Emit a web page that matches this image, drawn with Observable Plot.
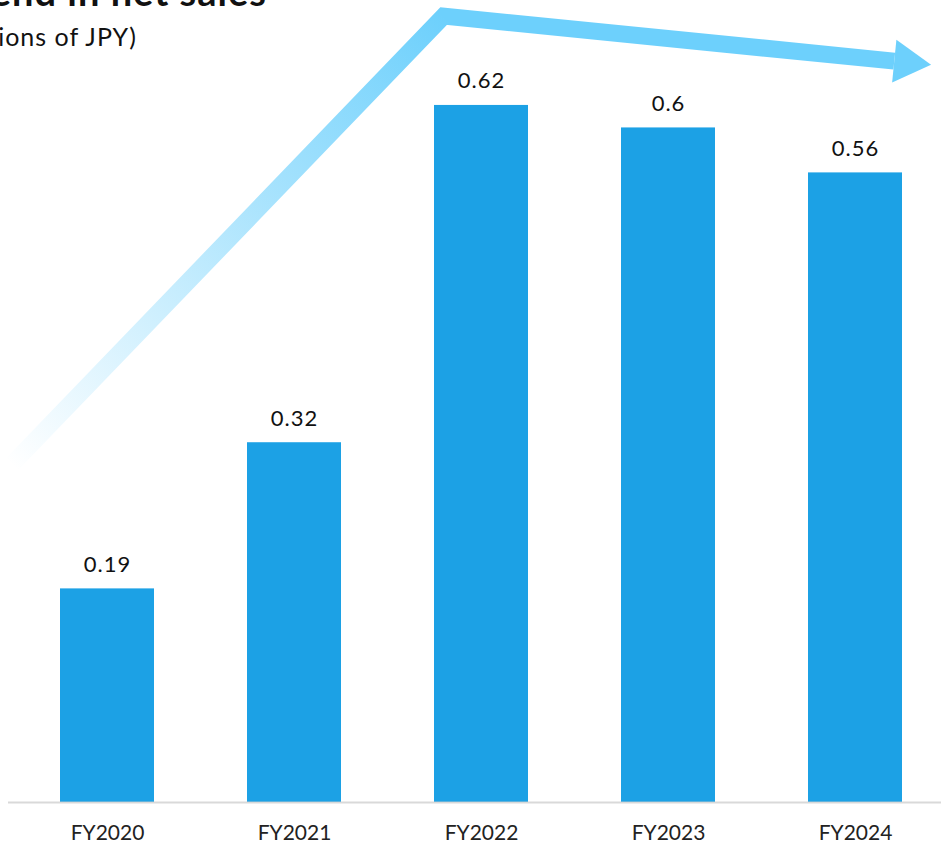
<!DOCTYPE html>
<html>
<head>
<meta charset="utf-8">
<script src="https://cdn.jsdelivr.net/npm/d3@7"></script>
<script src="https://cdn.jsdelivr.net/npm/@observablehq/plot@0.6"></script>
<style>
  body { margin: 0; background: #fff; }
  #chart { position: relative; width: 941px; height: 842px; overflow: hidden; font-family: Lato, "Noto Sans", sans-serif; }
  #chart svg { position: absolute; left: 0; top: 0; }
  #chart svg g[aria-label="text"] text { letter-spacing: 1px; }
  .title { position: absolute; right: 674px; top: -28px; font-size: 38px; font-weight: 700; letter-spacing: 1px; line-height: 1; white-space: nowrap; color: #111; z-index: 1; }
  .subtitle { position: absolute; right: 804px; top: 24px; font-size: 25px; letter-spacing: 1px; line-height: 1; white-space: nowrap; color: #111; z-index: 1; }
</style>
</head>
<body>
<div id="chart">
  <div class="title">Trend in net sales</div>
  <div class="subtitle">(Trillions of JPY)</div>
</div>
<script>
// Net sales by fiscal year (trillions of JPY)
const years = ["FY2020", "FY2021", "FY2022", "FY2023", "FY2024"];
const netSales = [0.19, 0.32, 0.62, 0.6, 0.56];

// Trend arrow vertices: offset in category steps from FY2020, and value on the sales axis
const trendIndex = [-0.51, 1.80, 4.21];
const trendValue = [0.30, 0.699, 0.659];

const data = years.map((year, i) => ({year, sales: netSales[i]}));

const ARROW_BLUE = "#6dd0fc";
const BAR_BLUE = "#1ca1e5";

// Custom mark: a thick polyline that fades in from the lower left, ending in an arrowhead
function trendArrow(index, scales) {
  const x = scales.x, y = scales.y;
  const step = x(years[1]) - x(years[0]);
  const bw = typeof x.bandwidth === "function" ? x.bandwidth() : step / 2;
  const px = (t) => x(years[0]) + bw / 2 + t * step;
  const pts = trendIndex.map((t, i) => [px(t), y(trendValue[i])]);
  const ns = "http://www.w3.org/2000/svg";
  const g = document.createElementNS(ns, "g");
  const defs = document.createElementNS(ns, "defs");
  const grad = document.createElementNS(ns, "linearGradient");
  grad.setAttribute("id", "trend-fade");
  grad.setAttribute("gradientUnits", "userSpaceOnUse");
  grad.setAttribute("x1", pts[0][0]); grad.setAttribute("y1", pts[0][1]);
  grad.setAttribute("x2", pts[1][0]); grad.setAttribute("y2", pts[1][1]);
  [[0, 0], [1, 1]].forEach(([o, a]) => {
    const s = document.createElementNS(ns, "stop");
    s.setAttribute("offset", o);
    s.setAttribute("stop-color", ARROW_BLUE);
    s.setAttribute("stop-opacity", a);
    grad.appendChild(s);
  });
  defs.appendChild(grad);
  g.appendChild(defs);

  const path = document.createElementNS(ns, "path");
  path.setAttribute("d", "M" + pts.map(p => p.join(",")).join("L"));
  path.setAttribute("fill", "none");
  path.setAttribute("stroke", "url(#trend-fade)");
  path.setAttribute("stroke-width", 17);
  path.setAttribute("stroke-linejoin", "miter");
  path.setAttribute("stroke-miterlimit", 10);
  g.appendChild(path);

  // arrowhead at the end of the last segment
  const [a, b] = [pts[1], pts[2]];
  const len = Math.hypot(b[0] - a[0], b[1] - a[1]);
  const u = [(b[0] - a[0]) / len, (b[1] - a[1]) / len];
  const n = [-u[1], u[0]];
  const half = 21.5, reach = 37;
  const head = [
    [b[0] + n[0] * half, b[1] + n[1] * half],
    [b[0] + u[0] * reach, b[1] + u[1] * reach],
    [b[0] - n[0] * half, b[1] - n[1] * half]
  ];
  const poly = document.createElementNS(ns, "polygon");
  poly.setAttribute("points", head.map(p => p.join(",")).join(" "));
  poly.setAttribute("fill", ARROW_BLUE);
  g.appendChild(poly);
  return g;
}

const chart = Plot.plot({
  width: 941,
  height: 842,
  marginTop: 15,
  marginBottom: 40,
  marginLeft: 8,
  marginRight: 0,
  style: {fontFamily: "Lato, 'Noto Sans', sans-serif", fontSize: "21px", color: "#222", background: "transparent"},
  x: {domain: years, range: [8, 954], paddingInner: 0.5, paddingOuter: 0.272, tickSize: 0, tickPadding: 23, label: null},
  y: {domain: [0, 0.7], axis: null},
  marks: [
    trendArrow,
    Plot.barY(data, {x: "year", y: "sales", fill: BAR_BLUE}),
    Plot.ruleY([0], {stroke: "#cfcfcf", strokeWidth: 2, strokeOpacity: 0.8}),
    Plot.text(data, {x: "year", y: "sales", text: d => String(d.sales), dy: -17, lineAnchor: "bottom", fontSize: 22, fill: "#111"})
  ]
});

document.getElementById("chart").appendChild(chart);
</script>
</body>
</html>
